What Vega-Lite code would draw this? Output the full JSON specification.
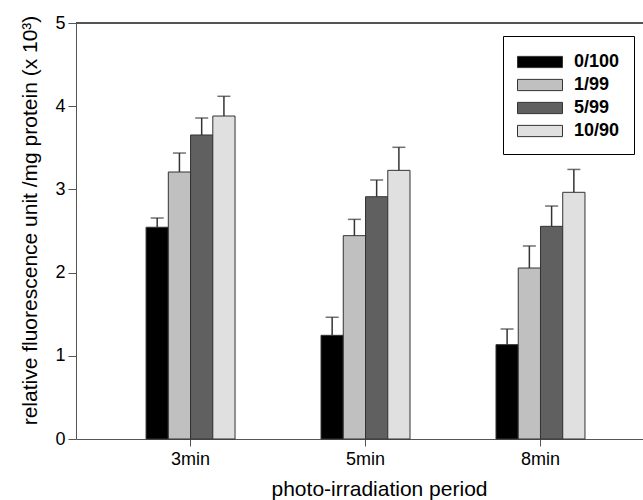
{
  "$schema": "https://vega.github.io/schema/vega-lite/v6.json",
  "width": 567,
  "height": 416,
  "autosize": "none",
  "padding": {"left": 76, "top": 23, "right": 0, "bottom": 61},
  "config": {"view": {"stroke": null}, "font": "Liberation Sans"},
  "data": {
    "values": [
      {"period": "3min", "ratio": "0/100", "value": 2.545, "high": 2.656},
      {"period": "3min", "ratio": "1/99", "value": 3.209, "high": 3.437},
      {"period": "3min", "ratio": "5/99", "value": 3.654, "high": 3.858},
      {"period": "3min", "ratio": "10/90", "value": 3.882, "high": 4.119},
      {"period": "5min", "ratio": "0/100", "value": 1.246, "high": 1.463},
      {"period": "5min", "ratio": "1/99", "value": 2.444, "high": 2.64},
      {"period": "5min", "ratio": "5/99", "value": 2.912, "high": 3.113},
      {"period": "5min", "ratio": "10/90", "value": 3.229, "high": 3.506},
      {"period": "8min", "ratio": "0/100", "value": 1.134, "high": 1.322},
      {"period": "8min", "ratio": "1/99", "value": 2.055, "high": 2.32},
      {"period": "8min", "ratio": "5/99", "value": 2.556, "high": 2.8},
      {"period": "8min", "ratio": "10/90", "value": 2.965, "high": 3.24}
    ]
  },
  "layer": [
    {
      "mark": {"type": "bar", "stroke": "#333", "strokeWidth": 1},
      "encoding": {
        "x": {
          "field": "period", "type": "nominal", "sort": ["3min", "5min", "8min"],
          "scale": {"paddingInner": 0.4914, "paddingOuter": 0.366, "align": 0.547},
          "axis": {
            "labelAngle": 0, "tickSize": 7, "labelFontSize": 18, "labelPadding": 4,
            "labelColor": "#000", "domainColor": "#555", "tickColor": "#555",
            "title": "photo-irradiation period", "titleFontSize": 21, "titleFontWeight": "normal",
            "titleColor": "#000", "titleX": 303, "titleY": 56, "titleBaseline": "alphabetic", "titleAlign": "center"
          }
        },
        "xOffset": {
          "field": "ratio", "type": "nominal", "sort": ["0/100", "1/99", "5/99", "10/90"],
          "scale": {"paddingInner": 0, "paddingOuter": 0}
        },
        "y": {
          "field": "value", "type": "quantitative",
          "scale": {"domain": [0, 5], "nice": false},
          "axis": {
            "values": [0, 1, 2, 3, 4, 5], "format": "d", "grid": false, "tickSize": 8, "labelPadding": 3,
            "labelFontSize": 18, "labelColor": "#000", "domainColor": "#555", "tickColor": "#555",
            "title": "relative fluorescence unit /mg protein  (x 10³)", "titleFontSize": 21,
            "titleFontWeight": "normal", "titleColor": "#000", "titleAngle": -90,
            "titleX": -40, "titleY": 197, "titleBaseline": "alphabetic", "titleAlign": "center"
          }
        },
        "fill": {
          "field": "ratio", "type": "nominal",
          "scale": {"domain": ["0/100", "1/99", "5/99", "10/90"], "range": ["#000000", "#c0c0c0", "#606060", "#e0e0e0"]},
          "legend": {
            "title": null, "orient": "none", "legendX": 427, "legendY": 13,
            "padding": 14, "strokeColor": "#000", "fillColor": "#fff",
            "symbolType": "M-2,-0.5H2V0.5H-2Z", "symbolSize": 506,
            "symbolOffset": 11,
            "symbolStrokeColor": "#333", "symbolStrokeWidth": 1, "symbolOpacity": 1,
            "labelFontSize": 18, "labelFontWeight": "bold", "labelColor": "#000",
            "labelOffset": 22, "rowPadding": 2
          }
        }
      }
    },
    {
      "mark": {"type": "rule", "color": "#333", "strokeWidth": 1.5},
      "encoding": {
        "x": {"field": "period", "type": "nominal", "sort": ["3min", "5min", "8min"]},
        "xOffset": {"field": "ratio", "type": "nominal", "sort": ["0/100", "1/99", "5/99", "10/90"]},
        "y": {"field": "value", "type": "quantitative"},
        "y2": {"field": "high"}
      }
    },
    {
      "mark": {"type": "tick", "color": "#333", "thickness": 1.5, "size": 13, "orient": "horizontal"},
      "encoding": {
        "x": {"field": "period", "type": "nominal", "sort": ["3min", "5min", "8min"]},
        "xOffset": {"field": "ratio", "type": "nominal", "sort": ["0/100", "1/99", "5/99", "10/90"]},
        "y": {"field": "high", "type": "quantitative"}
      }
    },
    {
      "mark": {"type": "rule", "color": "#555", "strokeWidth": 1},
      "encoding": {"y": {"datum": 5}}
    }
  ]
}
